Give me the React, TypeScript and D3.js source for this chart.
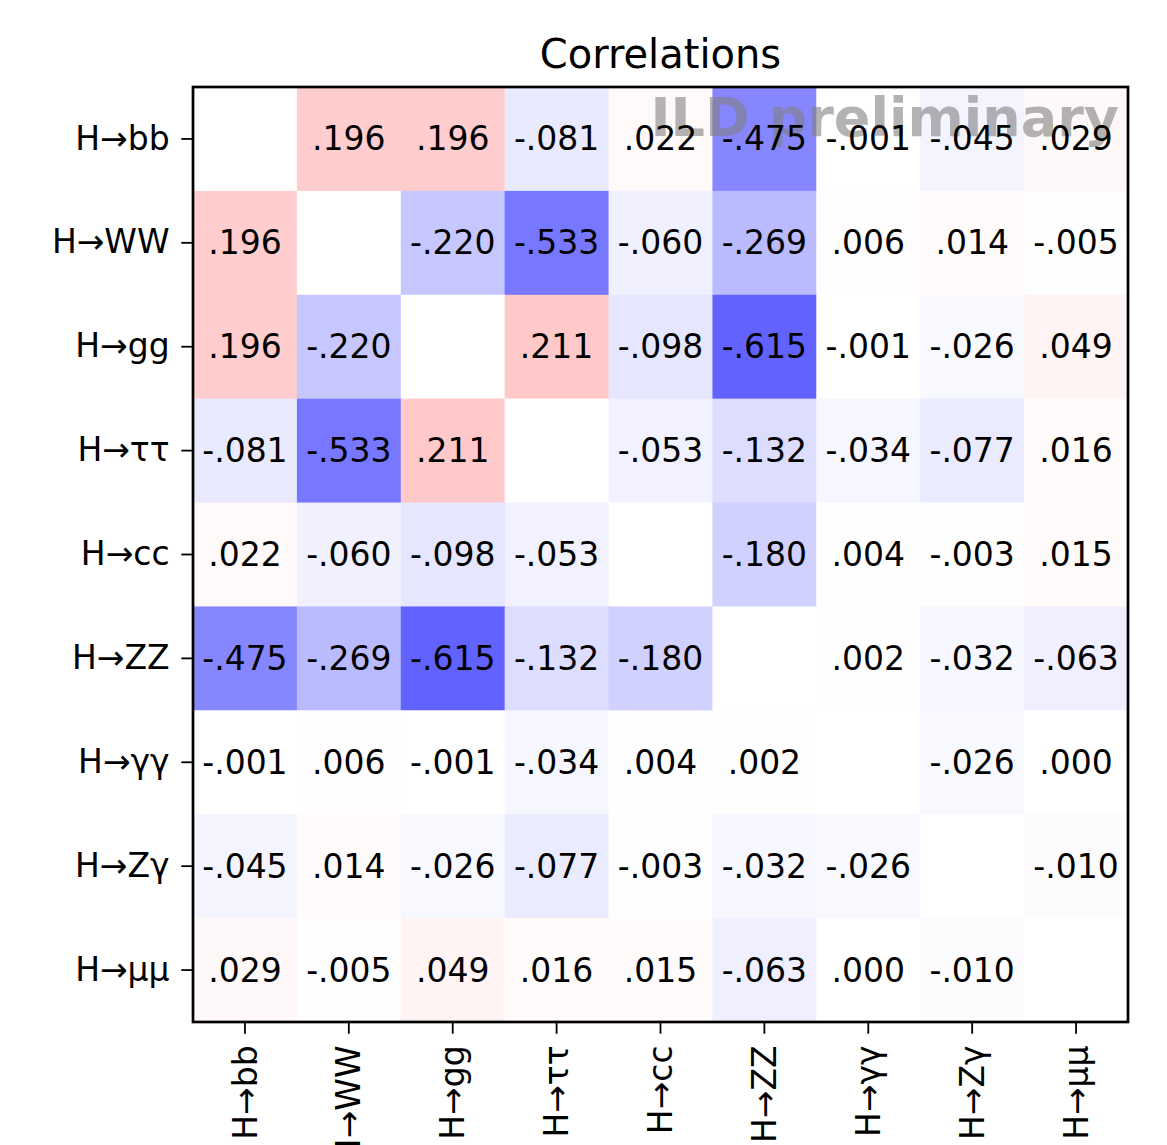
import { useEffect, useRef } from "react";
import * as d3 from "d3";

// channel labels, same order on both axes
const channels = ["H→bb", "H→WW", "H→gg", "H→ττ", "H→cc", "H→ZZ", "H→γγ", "H→Zγ", "H→μμ"];

// correlation matrix rows (null = diagonal, left blank)
const rowBB = [null, 0.196, 0.196, -0.081, 0.022, -0.475, -0.001, -0.045, 0.029];
const rowWW = [0.196, null, -0.22, -0.533, -0.06, -0.269, 0.006, 0.014, -0.005];
const rowGG = [0.196, -0.22, null, 0.211, -0.098, -0.615, -0.001, -0.026, 0.049];
const rowTT = [-0.081, -0.533, 0.211, null, -0.053, -0.132, -0.034, -0.077, 0.016];
const rowCC = [0.022, -0.06, -0.098, -0.053, null, -0.18, 0.004, -0.003, 0.015];
const rowZZ = [-0.475, -0.269, -0.615, -0.132, -0.18, null, 0.002, -0.032, -0.063];
const rowAA = [-0.001, 0.006, -0.001, -0.034, 0.004, 0.002, null, -0.026, 0.0];
const rowZA = [-0.045, 0.014, -0.026, -0.077, -0.003, -0.032, -0.026, null, -0.01];
const rowMM = [0.029, -0.005, 0.049, 0.016, 0.015, -0.063, 0.0, -0.01, null];

const rows: (number | null)[][] = [rowBB, rowWW, rowGG, rowTT, rowCC, rowZZ, rowAA, rowZA, rowMM];

const title = "Correlations";
const watermark = "ILD preliminary";

export default function App() {
  const ref = useRef<SVGSVGElement | null>(null);
  const width = 1167;
  const height = 1145;

  useEffect(() => {
    const svg = d3.select(ref.current).attr("width", width).attr("height", height);
    svg.selectAll("*").remove();

    const font = "DejaVu Sans, sans-serif";
    const left = 193, right = 1128, top = 87, bottom = 1022;

    /* -------- scales -------- */
    const x = d3.scaleBand<string>().domain(channels).range([left, right]);
    const y = d3.scaleBand<string>().domain(channels).range([top, bottom]);
    // matplotlib "bwr", vmin -1 .. vmax 1
    const color = d3
      .scaleLinear<string>()
      .domain([-1, 0, 1])
      .range(["#0000ff", "#ffffff", "#ff0000"])
      .interpolate(d3.interpolateRgb);

    const cells = rows.flatMap((r, i) =>
      r.map((v, j) => ({ row: channels[i], col: channels[j], v }))
    );

    /* -------- heatmap cells -------- */
    svg
      .append("g")
      .selectAll("rect")
      .data(cells)
      .join("rect")
      .attr("x", (d) => x(d.col)!)
      .attr("y", (d) => y(d.row)!)
      .attr("width", x.bandwidth() + 0.5)
      .attr("height", y.bandwidth() + 0.5)
      .attr("fill", (d) => (d.v === null ? "#ffffff" : color(d.v)));

    /* -------- watermark (behind numbers) -------- */
    svg
      .append("text")
      .attr("x", 1119)
      .attr("y", 136)
      .attr("text-anchor", "end")
      .attr("font-family", font)
      .attr("font-weight", "bold")
      .attr("font-size", 54)
      .attr("fill", "#808080")
      .attr("fill-opacity", 0.6)
      .text(watermark);

    /* -------- cell numbers, ".196" / "-.081" style -------- */
    const fmt = (v: number) => (v < 0 ? "-" : "") + Math.abs(v).toFixed(3).slice(1);
    svg
      .append("g")
      .selectAll("text")
      .data(cells.filter((d) => d.v !== null))
      .join("text")
      .attr("x", (d) => x(d.col)! + x.bandwidth() / 2)
      .attr("y", (d) => y(d.row)! + y.bandwidth() / 2)
      .attr("text-anchor", "middle")
      .attr("dominant-baseline", "central")
      .attr("font-family", font)
      .attr("font-size", 33)
      .attr("fill", "#000")
      .text((d) => fmt(d.v as number));

    /* -------- axes -------- */
    const yAxis = svg
      .append("g")
      .attr("transform", `translate(${left},0)`)
      .call(d3.axisLeft(y).tickSize(11.7).tickPadding(11.7));
    yAxis.select(".domain").remove();
    yAxis.selectAll("line").attr("stroke", "#000").attr("stroke-width", 1.8);
    yAxis
      .selectAll("text")
      .attr("font-family", font)
      .attr("font-size", 33)
      .attr("fill", "#000");

    const xAxis = svg
      .append("g")
      .attr("transform", `translate(0,${bottom})`)
      .call(d3.axisBottom(x).tickSize(11.7).tickPadding(11.7));
    xAxis.select(".domain").remove();
    xAxis.selectAll("line").attr("stroke", "#000").attr("stroke-width", 1.8);
    xAxis
      .selectAll("text")
      .attr("font-family", font)
      .attr("font-size", 33)
      .attr("fill", "#000")
      .attr("transform", "rotate(-90)")
      .attr("x", -23.4)
      .attr("y", 0)
      .attr("dy", "0.35em")
      .attr("text-anchor", "end");

    /* -------- frame + title -------- */
    svg
      .append("rect")
      .attr("x", left)
      .attr("y", top)
      .attr("width", right - left)
      .attr("height", bottom - top)
      .attr("fill", "none")
      .attr("stroke", "#000")
      .attr("stroke-width", 2.7);

    svg
      .append("text")
      .attr("x", (left + right) / 2)
      .attr("y", 68)
      .attr("text-anchor", "middle")
      .attr("font-family", font)
      .attr("font-size", 40)
      .attr("fill", "#000")
      .text(title);
  }, []);

  return <svg ref={ref} style={{ position: "absolute", left: 0, top: 0, background: "#fff" }} />;
}
